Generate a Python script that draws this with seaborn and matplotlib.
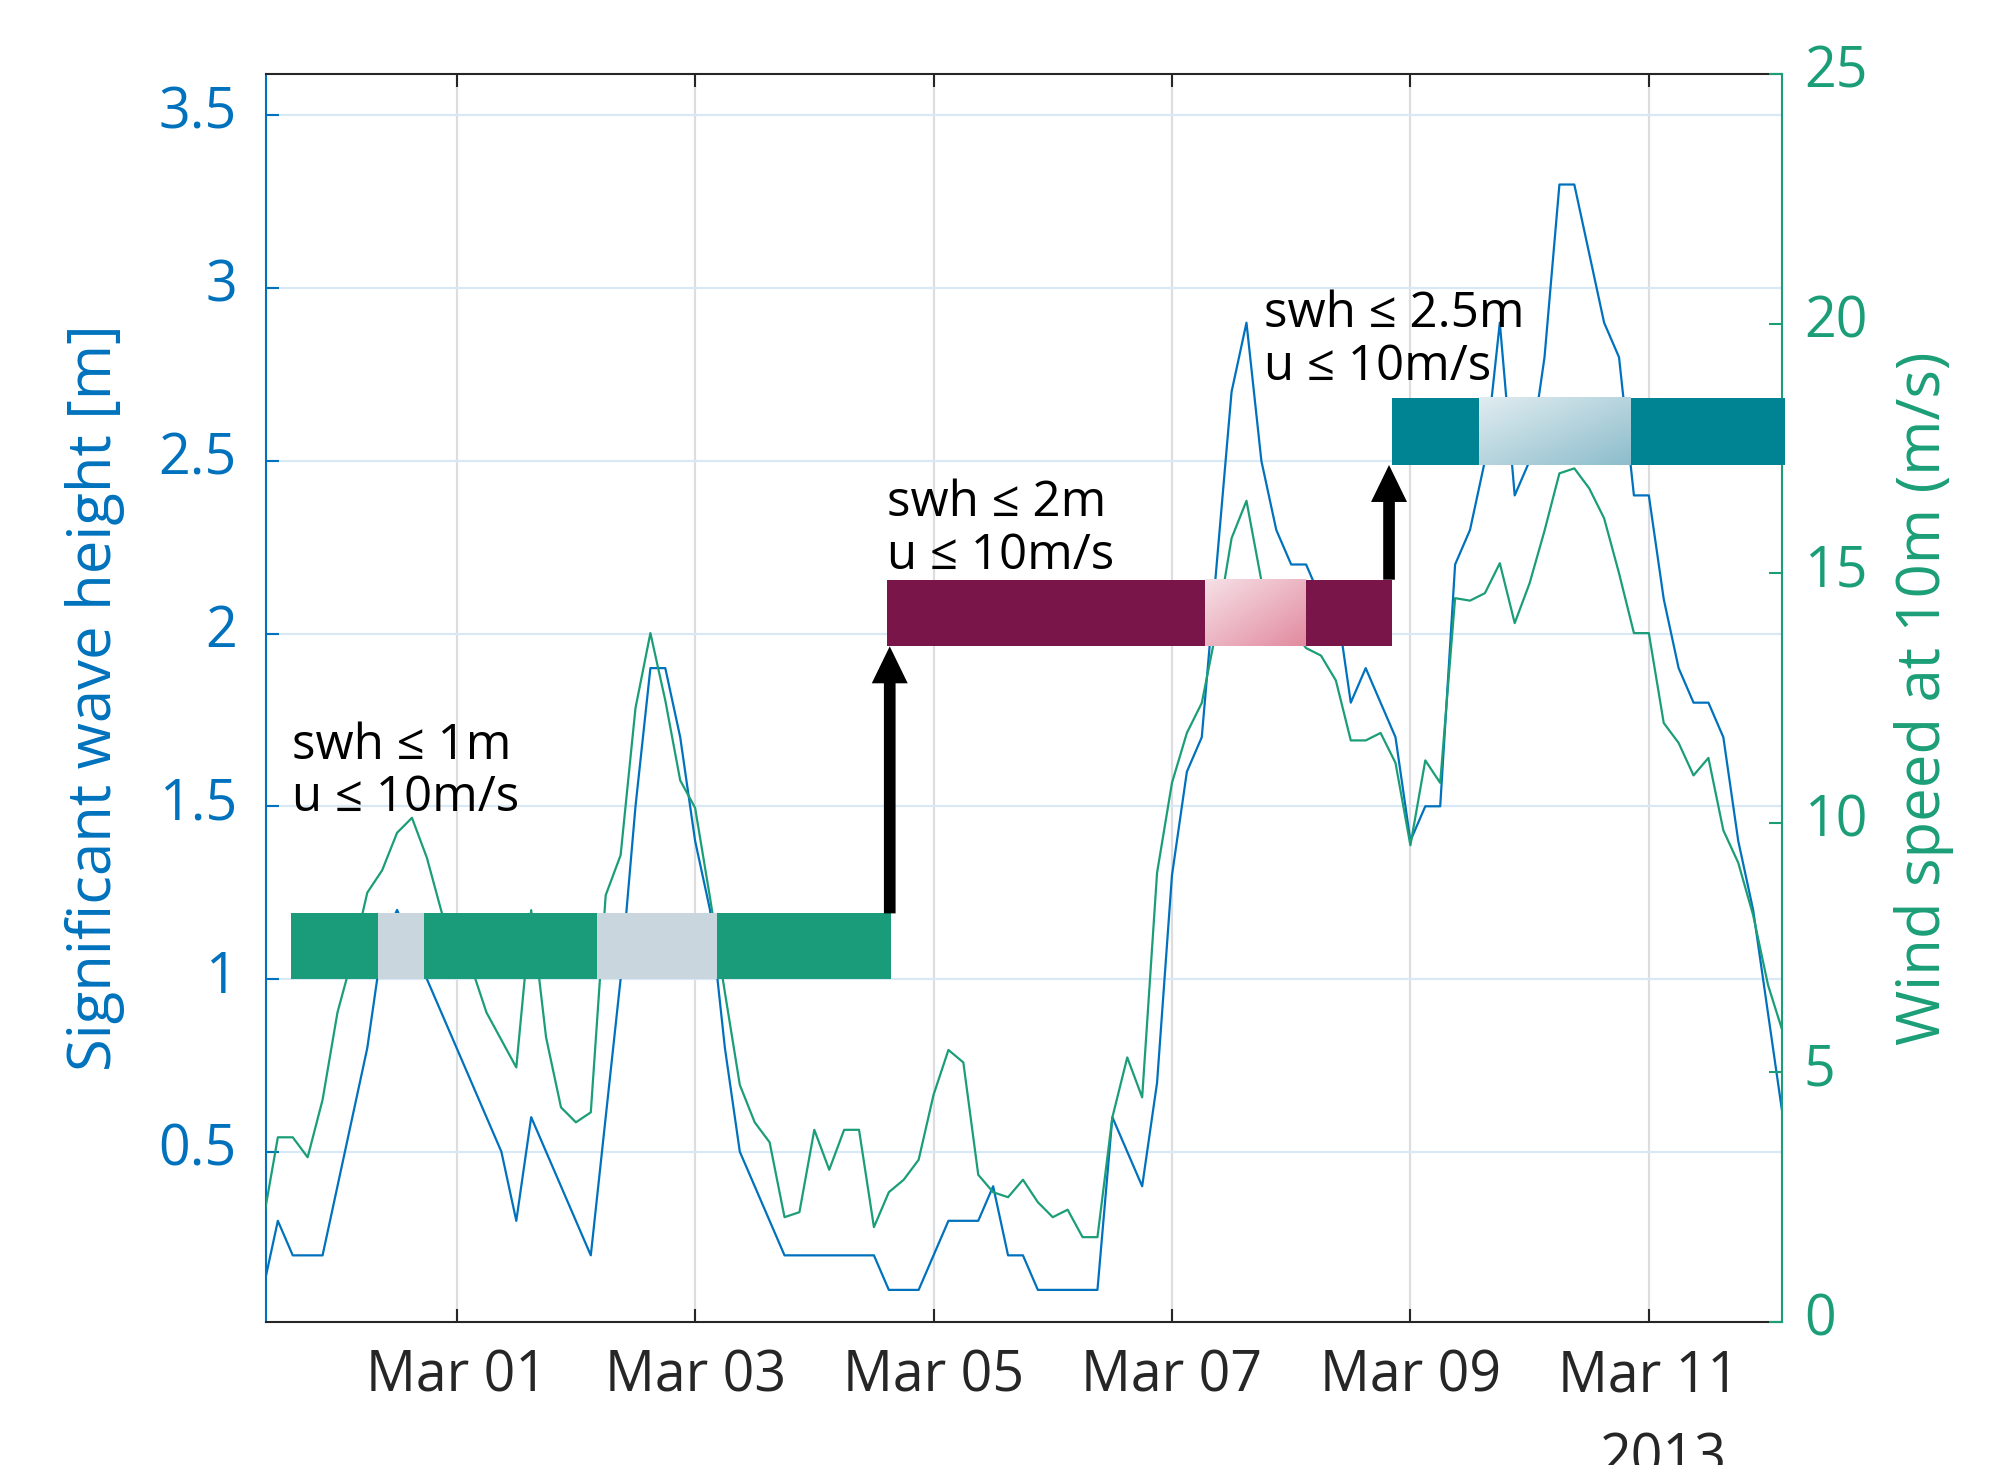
import numpy as np
import pandas as pd
import matplotlib
matplotlib.use("Agg")
import matplotlib.pyplot as plt
import matplotlib.dates as mdates
from matplotlib.patches import Rectangle
from matplotlib.ticker import FixedLocator, FuncFormatter
from matplotlib.transforms import ScaledTranslation
import seaborn as sns

# ---------------------------------------------------------------- data
# 3-hourly samples, starting 2013-02-27 09:00
times = pd.date_range("2013-02-27 09:00", periods=103, freq="3h")

# significant wave height [m]
swh = [0.1, 0.3, 0.2, 0.2, 0.2, 0.4, 0.6, 0.8, 1.1, 1.2,
       1.1, 1.0, 0.9, 0.8, 0.7, 0.6, 0.5, 0.3, 0.6, 0.5,
       0.4, 0.3, 0.2, 0.6, 1.0, 1.5, 1.9, 1.9, 1.7, 1.4,
       1.2, 0.8, 0.5, 0.4, 0.3, 0.2, 0.2, 0.2, 0.2, 0.2,
       0.2, 0.2, 0.1, 0.1, 0.1, 0.2, 0.3, 0.3, 0.3, 0.4,
       0.2, 0.2, 0.1, 0.1, 0.1, 0.1, 0.1, 0.6, 0.5, 0.4,
       0.7, 1.3, 1.6, 1.7, 2.2, 2.7, 2.9, 2.5, 2.3, 2.2,
       2.2, 2.1, 2.1, 1.8, 1.9, 1.8, 1.7, 1.4, 1.5, 1.5,
       2.2, 2.3, 2.5, 2.9, 2.4, 2.5, 2.8, 3.3, 3.3, 3.1,
       2.9, 2.8, 2.4, 2.4, 2.1, 1.9, 1.8, 1.8, 1.7, 1.4,
       1.2, 0.9, 0.6]

# wind speed at 10 m [m/s]
wind = [2.0, 3.7, 3.7, 3.3, 4.45, 6.2, 7.3, 8.6, 9.05, 9.8,
        10.1, 9.3, 8.2, 7.6, 7.1, 6.2, 5.65, 5.1, 8.25, 5.7,
        4.3, 4.0, 4.2, 8.55, 9.35, 12.3, 13.8, 12.45, 10.85, 10.3,
        8.5, 6.6, 4.75, 4.0, 3.6, 2.1, 2.2, 3.85, 3.05, 3.85,
        3.85, 1.9, 2.6, 2.85, 3.25, 4.55, 5.45, 5.2, 2.95, 2.6,
        2.5, 2.85, 2.4, 2.1, 2.25, 1.7, 1.7, 4.1, 5.3, 4.5,
        9.0, 10.8, 11.8, 12.4, 13.9, 15.7, 16.45, 14.85, 14.4, 13.9,
        13.5, 13.35, 12.85, 11.65, 11.65, 11.8, 11.2, 9.55, 11.25, 10.8,
        14.5, 14.45, 14.6, 15.2, 14.0, 14.8, 15.85, 17.0, 17.1, 16.7,
        16.1, 15.0, 13.8, 13.8, 12.0, 11.6, 10.95, 11.3, 9.85, 9.2,
        8.15, 6.75, 5.8]

# operating windows (time span, vertical span on the wave-height scale)
window_spans = [("2013-02-27 14:37", "2013-03-04 15:22"),
                ("2013-03-04 14:40", "2013-03-08 20:12"),
                ("2013-03-08 20:23", "2013-03-12 03:24")]
window_levels = [(1.0, 1.19), (1.963, 2.156), (2.488, 2.683)]
# periods inside each window where the limits are exceeded
exceed_spans = [[("2013-02-28 08:08", "2013-02-28 17:25"),
                 ("2013-03-02 04:19", "2013-03-03 04:25")],
                [("2013-03-07 06:45", "2013-03-08 02:53")],
                [("2013-03-09 13:45", "2013-03-10 20:14")]]
window_labels = [("swh \u2264 1m", "u \u2264 10m/s"),
                 ("swh \u2264 2m", "u \u2264 10m/s"),
                 ("swh \u2264 2.5m", "u \u2264 10m/s")]
label_anchor = [("2013-02-27 14:45", 1.638, 1.486),
                ("2013-03-04 14:34", 2.341, 2.188),
                ("2013-03-07 18:26", 2.889, 2.734)]
# escalation arrows: time, from level, to level
arrow_times = ["2013-03-04 15:11", "2013-03-08 19:42"]
arrow_levels = [(1.19, 1.963), (2.156, 2.488)]

left_ticks = [0.5, 1, 1.5, 2, 2.5, 3, 3.5]
right_ticks = [0, 5, 10, 15, 20, 25]

# ---------------------------------------------------------------- style
BLUE = "#0072BD"
GREEN = "#1b9e77"
DARK = "#262626"
WIN_COLORS = ["#1a9c7b", "#7a1549", "#008494"]
GREY_GAP = "#c9d6de"
GRAD = [None,
        ((0.965, 0.878, 0.902), (0.886, 0.545, 0.627)),
        ((0.878, 0.925, 0.941), (0.553, 0.741, 0.800))]

sns.set_style("white")
plt.rcParams["font.family"] = ["Open Sans", "DejaVu Sans"]

fig = plt.figure(figsize=(19.98, 14.65), dpi=100)
rect = [0.1331, 0.0976, 0.7586, 0.8519]
ax = fig.add_axes(rect)
ax2 = ax.twinx()

df = pd.DataFrame({"time": times, "swh": swh, "wind": wind})
sns.lineplot(data=df, x="time", y="swh", ax=ax, color=BLUE, linewidth=1.6)
sns.lineplot(data=df, x="time", y="wind", ax=ax2, color=GREEN, linewidth=1.6)

# overlay for the window bars, arrows and labels (wave-height units)
ax3 = fig.add_axes(rect, sharex=ax, sharey=ax)
ax3.axis("off")
ax3.patch.set_visible(False)


def dnum(s):
    return mdates.date2num(pd.Timestamp(s))


for i, ((t0, t1), (y0, y1)) in enumerate(zip(window_spans, window_levels)):
    x0, x1 = dnum(t0), dnum(t1)
    ax3.add_patch(Rectangle((x0, y0), x1 - x0, y1 - y0, fc=WIN_COLORS[i],
                            ec="none", zorder=3, clip_on=False))
    for (g0, g1) in exceed_spans[i]:
        gx0, gx1 = dnum(g0), dnum(g1)
        if GRAD[i] is None:
            ax3.add_patch(Rectangle((gx0, y0), gx1 - gx0, y1 - y0,
                                    fc=GREY_GAP, ec="none", zorder=4))
        else:
            c0, c1 = np.array(GRAD[i][0]), np.array(GRAD[i][1])
            nx, ny = 64, 32
            u = np.linspace(0, 1, nx)[None, :]
            r = np.linspace(0, 1, ny)[:, None]
            t = ((u + r) / 2.0)[..., None]
            img = c0 * (1 - t) + c1 * t
            ax3.imshow(img, extent=[gx0, gx1, y0, y1], origin="upper",
                       aspect="auto", interpolation="bilinear", zorder=4)

for ta, (ya, yb) in zip(arrow_times, arrow_levels):
    xa = dnum(ta)
    ax3.annotate("", xy=(xa, yb), xytext=(xa, ya), xycoords="data",
                 arrowprops=dict(arrowstyle="simple,head_length=26.6,head_width=25.9,tail_width=8.4",
                                 mutation_scale=1, fc="black", ec="none", lw=0,
                                 shrinkA=0, shrinkB=0), zorder=5)

for (l1, l2), (tx, yb1, yb2) in zip(window_labels, label_anchor):
    xt = dnum(tx)
    ax3.text(xt, yb1, l1, fontsize=35.5, color="black", va="baseline", ha="left", zorder=6)
    ax3.text(xt, yb2, l2, fontsize=35.5, color="black", va="baseline", ha="left", zorder=6)

# ---------------------------------------------------------------- axes
ax.set_xlim(pd.Timestamp("2013-02-27 09:36"), pd.Timestamp("2013-03-12 02:44"))
ax.set_ylim(0.007, 3.62)
ax2.set_ylim(0, 25)

ax.xaxis.set_major_locator(mdates.DayLocator(bymonthday=[1, 3, 5, 7, 9, 11]))
ax.xaxis.set_major_formatter(mdates.DateFormatter("%b %d"))
ax.yaxis.set_major_locator(FixedLocator(left_ticks))
ax.yaxis.set_major_formatter(FuncFormatter(lambda v, p: f"{v:g}"))
ax2.yaxis.set_major_locator(FixedLocator(right_ticks))
ax2.yaxis.set_major_formatter(FuncFormatter(lambda v, p: f"{v:g}"))

ax.tick_params(axis="x", direction="in", length=9.4, width=1.5, top=True,
               bottom=True, colors=DARK, labelsize=40, pad=19)
ax.tick_params(axis="y", direction="in", length=9.4, width=1.5, left=True,
               right=False, colors=BLUE, labelsize=40, pad=21)
ax2.tick_params(axis="y", direction="in", length=9.4, width=1.5, right=True,
                colors=GREEN, labelsize=40, pad=16)

# value labels sit slightly above their tick marks
lift = ScaledTranslation(0, 8 / 100, fig.dpi_scale_trans)
for lab in ax.get_yticklabels() + ax2.get_yticklabels():
    lab.set_transform(lab.get_transform() + lift)

ax.grid(axis="x", color="#dcdde1", linewidth=1.6)
ax.grid(axis="y", color="#d9e8f5", linewidth=1.6)
ax.set_axisbelow(True)
ax2.grid(False)

for side in ["top", "bottom"]:
    ax.spines[side].set_color(DARK)
    ax.spines[side].set_linewidth(1.5)
ax.spines["left"].set_color(BLUE)
ax.spines["left"].set_linewidth(1.5)
ax.spines["right"].set_visible(False)
for side in ["top", "bottom", "left"]:
    ax2.spines[side].set_visible(False)
ax2.spines["right"].set_color(GREEN)
ax2.spines["right"].set_linewidth(1.5)

ax.set_xlabel("")
ax.set_ylabel("Significant wave height [m]", fontsize=43, color=BLUE)
ax.yaxis.set_label_coords(-0.093, 0.5)
ax2.set_ylabel("Wind speed at 10m (m/s)", fontsize=43, color=GREEN)
ax2.yaxis.set_label_coords(1.074, 0.5)

ax.text(0.9215, -0.122, "2013", transform=ax.transAxes, fontsize=40,
        color=DARK, ha="center", va="baseline")

fig.savefig("out.png", dpi=100)
